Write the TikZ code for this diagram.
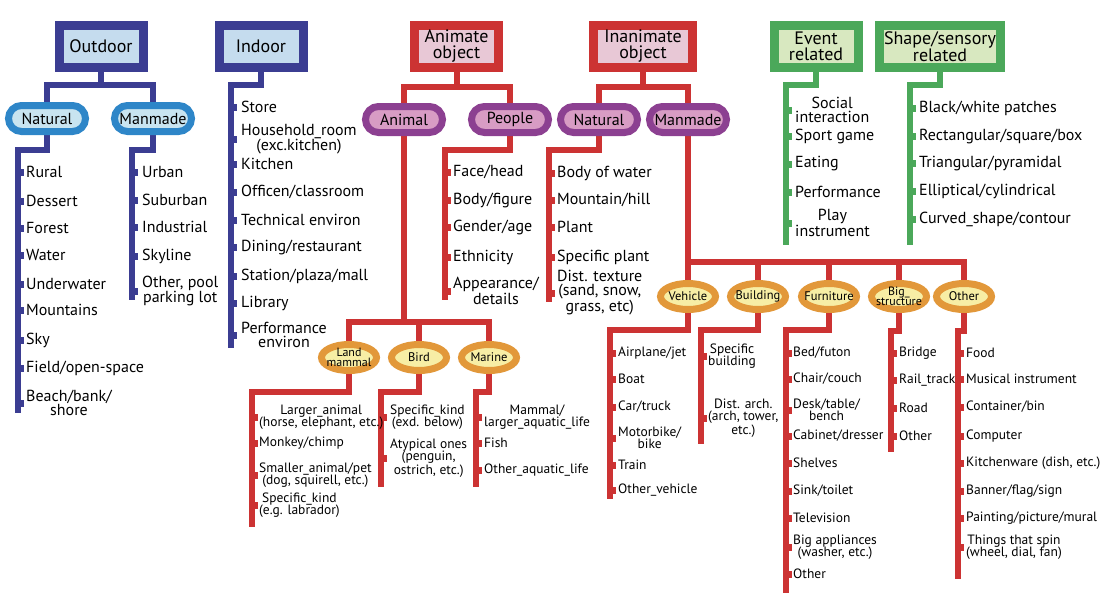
\documentclass[tikz,border=0pt]{standalone}
\usepackage{fontspec}
\setmainfont{PT Sans}
\usepackage{xcolor}
\usetikzlibrary{positioning,calc,shapes.geometric}

\definecolor{navy}{RGB}{59,61,146}
\definecolor{skyring}{RGB}{46,134,200}
\definecolor{boxblue}{RGB}{197,220,238}
\definecolor{pillblue}{RGB}{200,228,240}
\definecolor{redline}{RGB}{204,51,51}
\definecolor{boxpink}{RGB}{232,200,214}
\definecolor{plum}{RGB}{140,64,145}
\definecolor{pillpink}{RGB}{216,156,196}
\definecolor{orng}{RGB}{226,152,58}
\definecolor{ylw}{RGB}{247,238,165}
\definecolor{grn}{RGB}{75,168,90}
\definecolor{boxgreen}{RGB}{216,232,192}

\pgfdeclarelayer{bg}
\pgfsetlayers{bg,main}

\begin{document}
\begin{tikzpicture}[x=1pt,y=-1pt,
  box/.style={line width=9pt, minimum height=42pt, inner sep=0pt, align=center,
    font=\fontsize{18}{16}\selectfont},
  pill/.style={line width=7pt, rounded corners=13pt, minimum height=26pt,
    minimum width=77pt, inner sep=0pt, font=\fontsize{16}{16}\selectfont},
  egg/.style={ellipse, draw=orng, fill=ylw, line width=7pt, minimum width=55pt,
    minimum height=26pt, inner xsep=-8pt, inner ysep=-3pt, align=center,
    font=\fontsize{12.5}{11}\selectfont},
  twoline/.style={font=\fontsize{12}{10.5}\selectfont},
  link/.style={line width=6pt},
  item/.style={anchor=west, inner sep=0pt, align=center,
    font=\fontsize{16}{14}\selectfont},
  small/.style={anchor=west, inner sep=0pt, align=center,
    font=\fontsize{13.5}{12.5}\selectfont},
]
\useasboundingbox (0,0) rectangle (1118,600);

% Top boxes
\node[box, draw=navy, fill=boxblue, minimum width=84pt] (outdoor) at (101,46.5) {Outdoor};
\node[box, draw=navy, fill=boxblue, minimum width=84pt] (indoor) at (261,46.5) {Indoor};
\node[box, draw=redline, fill=boxpink, minimum width=84pt] (animate) at (456.5,46.5) {Animate\\object};
\node[box, draw=redline, fill=boxpink, minimum width=99pt] (inanimate) at (643,46.5) {Inanimate\\object};
\node[box, draw=grn, fill=boxgreen, minimum width=84pt] (event) at (816,46.5) {Event\\related};
\node[box, draw=grn, fill=boxgreen, minimum width=121pt] (shape) at (940,46.5) {Shape/sensory\\related};

% Second level pills
\node[pill, draw=skyring, fill=pillblue] (onat) at (47,118.5) {Natural};
\node[pill, draw=skyring, fill=pillblue] (oman) at (153,118.5) {Manmade};
\node[pill, draw=plum, fill=pillpink] (animal) at (404,119.5) {Animal};
\node[pill, draw=plum, fill=pillpink] (people) at (510,119.5) {People};
\node[pill, draw=plum, fill=pillpink] (inat) at (599,119.5) {Natural};
\node[pill, draw=plum, fill=pillpink] (iman) at (688,119.5) {Manmade};

% Third level ellipses
\node[egg, twoline] (land) at (349,357.5) {Land\\mammal};
\node[egg] (bird) at (419,357.5) {Bird};
\node[egg] (marine) at (489,357.5) {Marine};
\node[egg] (vehicle) at (688,296.5) {Vehicle};
\node[egg] (building) at (758,296.5) {Building};
\node[egg] (furniture) at (829,296.5) {Furniture};
\node[egg, twoline] (bigstr) at (899,296.5) {Big\_\\structure};
\node[egg] (otherobj) at (964,296.5) {Other};

% Bars and list lines
\coordinate (outbar) at (101,85);
\coordinate (anibar) at (456.5,87);
\coordinate (inbar) at (643,87);
\coordinate (anbar) at (404,322);
\coordinate (mbar) at (688,262);
\coordinate (onat-top) at (18,150);     \coordinate (onat-end) at (18,413);
\coordinate (oman-top) at (132,150);    \coordinate (oman-end) at (132,300);
\coordinate (indoor-top) at (231,85);   \coordinate (indoor-end) at (231,348);
\coordinate (people-top) at (445,150);  \coordinate (people-end) at (445,300);
\coordinate (inat-top) at (549,150);    \coordinate (inat-end) at (549,302);
\coordinate (event-top) at (786,85);    \coordinate (event-end) at (786,245);
\coordinate (shape-top) at (910,85);    \coordinate (shape-end) at (910,245);
\coordinate (land-top) at (252,392);    \coordinate (land-end) at (252,527);
\coordinate (bird-top) at (381,392);    \coordinate (bird-end) at (381,487);
\coordinate (marine-top) at (476,392);  \coordinate (marine-end) at (476,487);
\coordinate (vehicle-top) at (610,330); \coordinate (vehicle-end) at (610,499);
\coordinate (building-top) at (701,330); \coordinate (building-end) at (701,444);
\coordinate (furniture-top) at (786,330); \coordinate (furniture-end) at (786,593);
\coordinate (bigstr-top) at (891,331);  \coordinate (bigstr-end) at (891,452);
\coordinate (otherobj-top) at (958,331); \coordinate (otherobj-end) at (958,579);

\begin{pgfonlayer}{bg}
  % Outdoor and Indoor
  \draw[link, navy] (outdoor) -- (outbar);
  \draw[link, navy] (onat.north) |- (outbar) -| (oman.north);
  \foreach \n in {onat,oman,indoor}
    \draw[link, navy] (\n.south) |- (\n-top) -- (\n-end);
  % Animate and Inanimate
  \draw[link, redline] (animate) -- (anibar);
  \draw[link, redline] (animal.north) |- (anibar) -| (people.north);
  \draw[link, redline] (inanimate) -- (inbar);
  \draw[link, redline] (inat.north) |- (inbar) -| (iman.north);
  \draw[link, redline] (animal) -- (anbar);
  \draw[link, redline] (land.north) |- (anbar) -| (marine.north);
  \draw[link, redline] (bird.north) |- (anbar);
  \draw[link, redline] (iman) -- (vehicle);
  \draw[link, redline] (mbar) -| (otherobj.north);
  \foreach \n in {building,furniture,bigstr}
    \draw[link, redline] (\n.north) |- (mbar);
  \foreach \n in {people,inat,land,bird,marine,vehicle,building,furniture,bigstr,otherobj}
    \draw[link, redline] (\n.south) |- (\n-top) -- (\n-end);
  % Event and Shape
  \foreach \n in {event,shape}
    \draw[link, grn] (\n.south) |- (\n-top) -- (\n-end);
\end{pgfonlayer}

% Outdoor lists
\foreach \y/\t [count=\i] in {172/{Rural}, 201/{Dessert}, 228/{Forest}, 255/{Water},
    284/{Underwater}, 310/{Mountains}, 340/{Sky}, 368/{Field/open-space},
    403/{Beach/bank/\\shore}} {
  \fill[navy] (21,\y-3.5) rectangle ++(3,7);
  \node[item] (onat-\i) at (26,\y) {\t};
}
\foreach \y/\t [count=\i] in {172/{Urban}, 200/{Suburban}, 227/{Industrial}, 256/{Skyline},
    291/{Other, pool\\parking lot}} {
  \fill[navy] (135,\y-3.5) rectangle ++(3,7);
  \node[item] (oman-\i) at (142,\y) {\t};
}
% Indoor list
\foreach \y/\t [count=\i] in {107/{Store}, 139/{Household\_room\\(exc.kitchen)},
    164/{Kitchen}, 192/{Officen/classroom}, 220/{Technical environ},
    247/{Dining/restaurant}, 276/{Station/plaza/mall}, 303/{Library},
    335/{Performance\\environ}} {
  \fill[navy] (234,\y-3.5) rectangle ++(3,7);
  \node[item] (indoor-\i) at (241,\y) {\t};
}
% People and natural objects
\foreach \y/\t [count=\i] in {172/{Face/head}, 200/{Body/figure}, 227/{Gender/age},
    257/{Ethnicity}, 291/{Appearance/\\details}} {
  \fill[redline] (448,\y-3.5) rectangle ++(3,7);
  \node[item] (people-\i) at (453,\y) {\t};
}
\foreach \y/\t [count=\i] in {173/{Body of water}, 200/{Mountain/hill}, 227/{Plant},
    257/{Specific plant}, 293/{Dist. texture\\(sand, snow,\\grass, etc)}} {
  \fill[redline] (552,\y-3.5) rectangle ++(3,7);
  \node[item] (inat-\i) at (557,\y) {\t};
}
% Event and shape lists
\foreach \y/\t [count=\i] in {110/{Social\\interaction}, 136/{Sport game}, 164/{Eating},
    192/{Performance}, 223/{Play\\instrument}} {
  \fill[grn] (789,\y-3.5) rectangle ++(3,7);
  \node[item] (event-\i) at (795,\y) {\t};
}
\foreach \y/\t [count=\i] in {108/{Black/white patches}, 136/{Rectangular/square/box},
    163/{Triangular/pyramidal}, 191/{Elliptical/cylindrical},
    219/{Curved\_shape/contour}} {
  \fill[grn] (913,\y-3.5) rectangle ++(3,7);
  \node[item] (shape-\i) at (919,\y) {\t};
}
% Animal lists
\foreach \y/\t [count=\i] in {417/{Larger\_animal\\(horse, elephant, etc.)},
    443/{Monkey/chimp}, 475/{Smaller\_animal/pet\\(dog, squirell, etc.)},
    505/{Specific\_kind\\(e.g. labrador)}} {
  \fill[redline] (255,\y-3.5) rectangle ++(3,7);
  \node[small] (land-\i) at (259,\y) {\t};
}
\foreach \y/\t [count=\i] in {417/{Specific\_kind\\(exd. below)},
    458/{Atypical ones\\(penguin,\\ostrich, etc.)}} {
  \fill[redline] (384,\y-3.5) rectangle ++(3,7);
  \node[small] (bird-\i) at (390,\y) {\t};
}
\foreach \y/\t [count=\i] in {417/{Mammal/\\larger\_aquatic\_life}, 443/{Fish},
    470/{Other\_aquatic\_life}} {
  \fill[redline] (479,\y-3.5) rectangle ++(3,7);
  \node[small] (marine-\i) at (484,\y) {\t};
}
% Manmade object lists
\foreach \y/\t [count=\i] in {353/{Airplane/jet}, 379/{Boat}, 407/{Car/truck},
    438/{Motorbike/\\bike}, 465/{Train}, 490/{Other\_vehicle}} {
  \fill[redline] (613,\y-3.5) rectangle ++(3,7);
  \node[small] (vehicle-\i) at (618,\y) {\t};
}
\foreach \y/\t [count=\i] in {356/{Specific\\building}, 418/{Dist. arch.\\(arch, tower,\\etc.)}} {
  \fill[redline] (704,\y-3.5) rectangle ++(3,7);
  \node[small] (building-\i) at (708,\y) {\t};
}
\foreach \y/\t [count=\i] in {353/{Bed/futon}, 379/{Chair/couch}, 410/{Desk/table/\\bench},
    436/{Cabinet/dresser}, 463/{Shelves}, 491/{Sink/toilet}, 518/{Television},
    547/{Big appliances\\(washer, etc.)}, 574/{Other}} {
  \fill[redline] (789,\y-3.5) rectangle ++(3,7);
  \node[small] (furniture-\i) at (793,\y) {\t};
}
\foreach \y/\t [count=\i] in {353/{Bridge}, 380/{Rail\_track}, 408/{Road}, 436/{Other}} {
  \fill[redline] (894,\y-3.5) rectangle ++(3,7);
  \node[small] (bigstr-\i) at (899,\y) {\t};
}
\foreach \y/\t [count=\i] in {353/{Food}, 379/{Musical instrument}, 407/{Container/bin},
    436/{Computer}, 463/{Kitchenware (dish, etc.)}, 491/{Banner/flag/sign},
    518/{Painting/picture/mural}, 547/{Things that spin\\(wheel, dial, fan)}} {
  \fill[redline] (961,\y-3.5) rectangle ++(3,7);
  \node[small] (otherobj-\i) at (966,\y) {\t};
}
\end{tikzpicture}
\end{document}
